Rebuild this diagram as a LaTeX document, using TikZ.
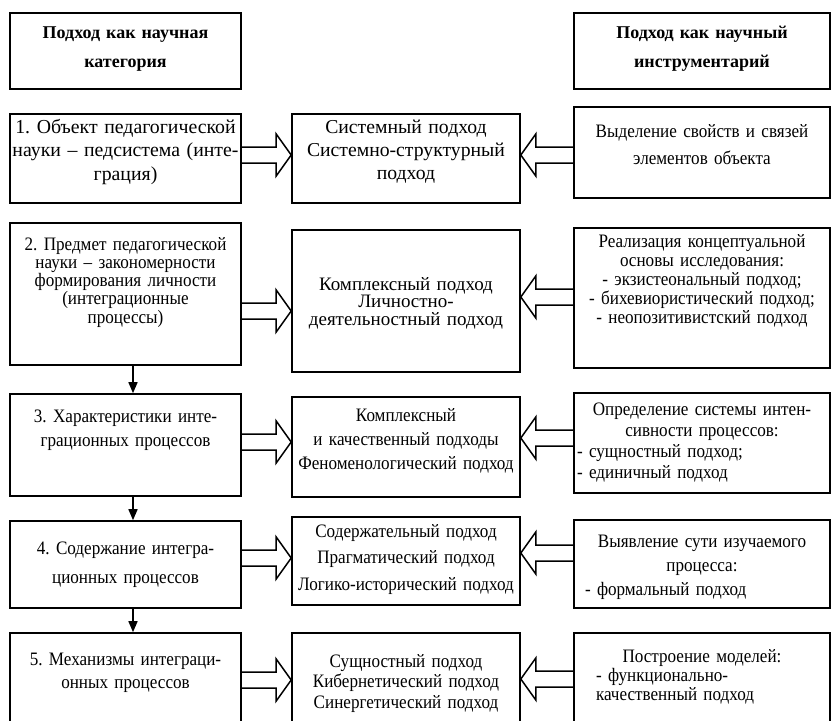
\documentclass[tikz,border=0pt]{standalone}
\usepackage{fontspec}
\setmainfont[FakeStretch=0.9]{Liberation Serif}
\newfontfamily\widefont{Liberation Serif}
\usetikzlibrary{arrows.meta,calc}

\tikzset{
  cell/.style={draw, line width=1.6pt, inner sep=0pt, align=center, text height=0pt},
  lcol/.style={minimum width=231pt, text width=229pt},
  mcol/.style={minimum width=228pt, text width=224pt},
  rcol/.style={minimum width=256pt, text width=252pt},
  dp/.style={text depth=#1},
  fs/.style={font=\fontsize{19}{#1}\selectfont},
  head/.style={font=\widefont\bfseries\fontsize{18}{29}\selectfont},
  hollow/.style={line width=1.5pt, line join=miter},
  down/.style={line width=1.5pt, -{Triangle[length=11pt,width=9pt]}}
}
\frenchspacing
% line flush to the left of a box, with an indent
\newcommand\lline[2][0pt]{\makebox[\hsize][l]{\hspace{#1}#2}}
% wide hollow arrow: from side, to side, height, direction (1 or -1)
\newcommand\fatarrow[4]{%
  \coordinate (s) at (#1 |- 0,#3);
  \coordinate (t) at (#2 |- 0,#3);
  \draw[hollow] ($(s)+(0,-8)$) -- ($(t)+(#4*-15,-8)$) -- ($(t)+(#4*-15,-21)$) -- (t)
    -- ($(t)+(#4*-15,21)$) -- ($(t)+(#4*-15,8)$) -- ($(s)+(0,8)$);
}

\begin{document}
\begin{tikzpicture}[x=1pt,y=-1pt]
\useasboundingbox (0,0) rectangle (832,720);
\clip (0,0) rectangle (832,720);

% headers
\node[cell,lcol,head,dp=26pt,minimum height=76pt] (hl) at (125.5,51) {Подход как научная\\категория};
\node[cell,rcol,head,dp=26pt,minimum height=76pt] (hr) at (702,51) {Подход как научный\\инструментарий};

% row 1
\node[cell,lcol,font=\widefont\fontsize{19.8}{23.5}\selectfont,dp=51pt,minimum height=89pt] (l1) at (125.5,158.5)
  {1. Объект педагогической\\науки – педсистема (инте-\\грация)};
\node[cell,mcol,font=\widefont\fontsize{19.7}{23}\selectfont,dp=51pt,minimum height=89pt] (m1) at (406,158.5)
  {Системный подход\\Системно-структурный\\подход};
\node[cell,rcol,fs=27,dp=31pt,minimum height=91pt] (r1) at (702,152.5)
  {Выделение свойств и связей\\элементов объекта};

% row 2
\node[cell,lcol,fs=18.3,dp=88pt,minimum height=142pt] (l2) at (125.5,294)
  {2. Предмет педагогической\\науки -- закономерности\\формирования личности\\(интеграционные\\процессы)};
\node[cell,mcol,font=\widefont\fontsize{19}{17.5}\selectfont,dp=22pt,minimum height=142pt] (m2) at (406,301)
  {Комплексный подход\\Личностно-\\деятельностный подход};
\node[cell,rcol,fs=19,dp=102pt,minimum height=140pt] (r2) at (702,298)
  {Реализация концептуальной\\основы исследования:\\- экзистеональный подход;\\- бихевиористический подход;\\- неопозитивистский подход};

% row 3
\node[cell,lcol,fs=24,dp=46pt,minimum height=102pt] (l3) at (125.5,445)
  {3. Характеристики инте-\\грационных процессов};
\node[cell,mcol,fs=24,dp=52pt,minimum height=100pt] (m3) at (406,447)
  {Комплексный\\и качественный подходы\\Феноменологический подход};
\node[cell,rcol,fs=21,dp=56pt,minimum height=100pt] (r3) at (702,443)
  {Определение системы интен-\\сивности процессов:\\\lline[1pt]{- сущностный подход;}\\\lline[1pt]{- единичный подход}};

% row 4
\node[cell,lcol,fs=29,dp=21pt,minimum height=87pt] (l4) at (125.5,564.5)
  {4. Содержание интегра-\\ционных процессов};
\node[cell,mcol,fs=26.5,dp=48pt,minimum height=88pt] (m4) at (406,561)
  {Содержательный подход\\Прагматический подход\\Логико-исторический подход};
\node[cell,rcol,fs=24,dp=34pt,minimum height=88pt] (r4) at (702,564)
  {Выявление сути изучаемого\\процесса:\\\lline[9pt]{- формальный подход}};

% row 5
\node[cell,lcol,fs=23,dp=63pt,minimum height=127pt] (l5) at (125.5,696.5)
  {5. Механизмы интеграци-\\онных процессов};
\node[cell,mcol,fs=20.5,dp=59pt,minimum height=127pt] (m5) at (406,696.5)
  {Сущностный подход\\Кибернетический подход\\Синергетический подход};
\node[cell,rcol,fs=19,dp=69pt,minimum height=127pt] (r5) at (702,696.5)
  {Построение моделей:\\\lline[20pt]{- функционально-}\\\lline[20pt]{качественный подход}};

% arrows
\fatarrow{l1.east}{m1.west}{155}{1}
\fatarrow{r1.west}{m1.east}{155}{-1}
\fatarrow{l2.east}{m2.west}{311}{1}
\fatarrow{r2.west}{m2.east}{297}{-1}
\fatarrow{l3.east}{m3.west}{442}{1}
\fatarrow{r3.west}{m3.east}{438}{-1}
\fatarrow{l4.east}{m4.west}{558}{1}
\fatarrow{r4.west}{m4.east}{553}{-1}
\fatarrow{l5.east}{m5.west}{680}{1}
\fatarrow{r5.west}{m5.east}{679}{-1}

\draw[down] (l2.south -| 133,0) -- (l3.north -| 133,0);
\draw[down] (l3.south -| 133,0) -- (l4.north -| 133,0);
\draw[down] (l4.south -| 133,0) -- (l5.north -| 133,0);
\end{tikzpicture}
\end{document}
